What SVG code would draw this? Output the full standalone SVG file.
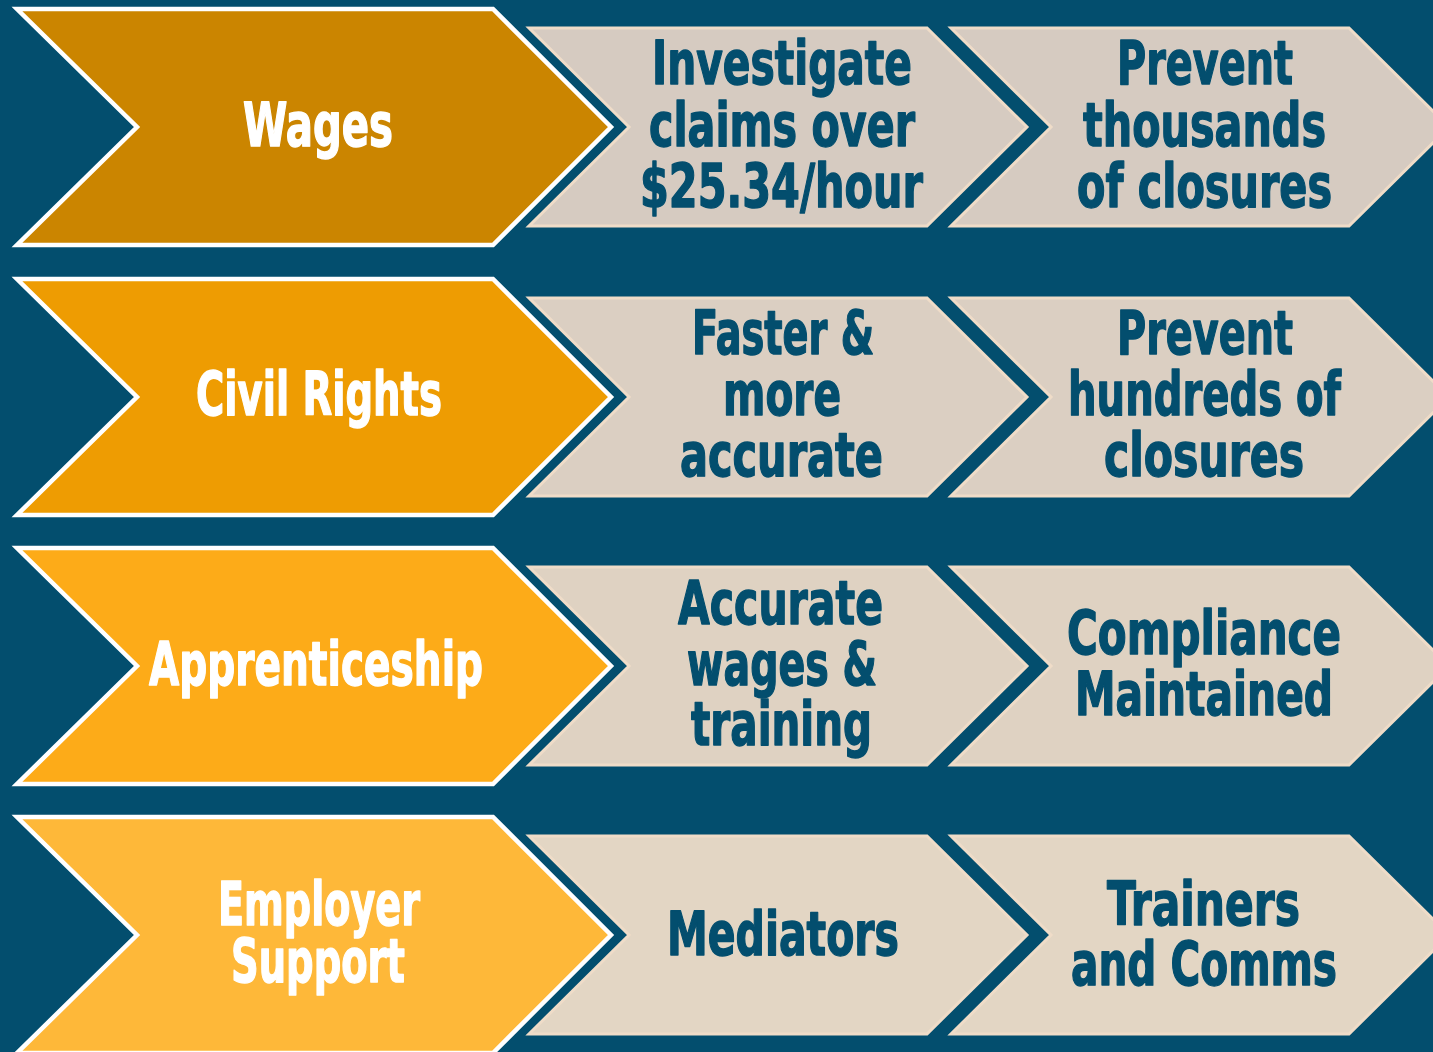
<svg xmlns="http://www.w3.org/2000/svg" xmlns:xlink="http://www.w3.org/1999/xlink" width="1433" height="1052" viewBox="0 0 1433 1052">
  <style>
    .lead { stroke: #FFFFFF; stroke-width: 4.5; stroke-linejoin: miter; }
    .step { stroke: #EFDCC8; stroke-width: 3; stroke-linejoin: miter; }
    text { font-family: "Liberation Sans Narrow", "DejaVu Sans Condensed", "Liberation Sans", sans-serif; font-weight: bold; font-size: 61px; text-anchor: middle; stroke-width: 1.4; stroke-linejoin: round; }
    .lt { fill: #FFFFFF; stroke: #FFFFFF; }
    .st { fill: #034E6E; stroke: #034E6E; }
  </style>
  <defs>
    <!-- leading chevron, centred vertically on y=0 -->
    <polygon id="leadShape" points="17,-118 493,-118 611,0 493,118 17,118 137,0"/>
    <!-- follow-on chevron, left edge at x=0, centred on y=0 -->
    <polygon id="stepShape" points="0,-99 398,-99 498,0 398,99 0,99 100,0"/>
  </defs>

  <rect width="1433" height="1052" fill="#034E6E"/>

  <!-- Row 1: Wages -->
  <g id="wages">
    <use xlink:href="#leadShape" class="lead" fill="#CB8500" transform="translate(0,127)"/>
    <text class="lt" x="318" y="146" textLength="150" lengthAdjust="spacingAndGlyphs">Wages</text>
  </g>
  <g id="wages-investigate">
    <use xlink:href="#stepShape" class="step" fill="#D6CBC1" transform="translate(529,127)"/>
    <text class="st" x="782" y="84" textLength="260" lengthAdjust="spacingAndGlyphs">Investigate</text>
    <text class="st" x="782" y="146" textLength="266" lengthAdjust="spacingAndGlyphs">claims over</text>
    <text class="st" x="781.5" y="207" textLength="283" lengthAdjust="spacingAndGlyphs">$25.34/hour</text>
  </g>
  <g id="wages-prevent">
    <use xlink:href="#stepShape" class="step" fill="#D6CBC1" transform="translate(951,127)"/>
    <text class="st" x="1205" y="84" textLength="176" lengthAdjust="spacingAndGlyphs">Prevent</text>
    <text class="st" x="1204.5" y="146" textLength="243" lengthAdjust="spacingAndGlyphs">thousands</text>
    <text class="st" x="1204.5" y="207" textLength="255" lengthAdjust="spacingAndGlyphs">of closures</text>
  </g>

  <!-- Row 2: Civil Rights -->
  <g id="civil-rights">
    <use xlink:href="#leadShape" class="lead" fill="#EE9C02" transform="translate(0,397)"/>
    <text class="lt" x="319" y="415" textLength="246" lengthAdjust="spacingAndGlyphs">Civil Rights</text>
  </g>
  <g id="civil-rights-faster">
    <use xlink:href="#stepShape" class="step" fill="#DBCFC2" transform="translate(529,397)"/>
    <text class="st" x="783" y="354" textLength="182" lengthAdjust="spacingAndGlyphs">Faster &amp;</text>
    <text class="st" x="782" y="415" textLength="118" lengthAdjust="spacingAndGlyphs">more</text>
    <text class="st" x="781.5" y="476" textLength="203" lengthAdjust="spacingAndGlyphs">accurate</text>
  </g>
  <g id="civil-rights-prevent">
    <use xlink:href="#stepShape" class="step" fill="#DBCFC2" transform="translate(951,397)"/>
    <text class="st" x="1205" y="354" textLength="176" lengthAdjust="spacingAndGlyphs">Prevent</text>
    <text class="st" x="1204.5" y="415" textLength="273" lengthAdjust="spacingAndGlyphs">hundreds of</text>
    <text class="st" x="1204" y="476" textLength="200" lengthAdjust="spacingAndGlyphs">closures</text>
  </g>

  <!-- Row 3: Apprenticeship -->
  <g id="apprenticeship">
    <use xlink:href="#leadShape" class="lead" fill="#FDAB18" transform="translate(0,666)"/>
    <text class="lt" x="316" y="685" textLength="334" lengthAdjust="spacingAndGlyphs">Apprenticeship</text>
  </g>
  <g id="apprenticeship-accurate">
    <use xlink:href="#stepShape" class="step" fill="#DFD2C2" transform="translate(529,666)"/>
    <text class="st" x="780.5" y="624" textLength="205" lengthAdjust="spacingAndGlyphs">Accurate</text>
    <text class="st" x="782" y="685" textLength="190" lengthAdjust="spacingAndGlyphs">wages &amp;</text>
    <text class="st" x="781.5" y="745" textLength="181" lengthAdjust="spacingAndGlyphs">training</text>
  </g>
  <g id="apprenticeship-compliance">
    <use xlink:href="#stepShape" class="step" fill="#DFD2C2" transform="translate(951,666)"/>
    <text class="st" x="1204" y="654" textLength="274" lengthAdjust="spacingAndGlyphs">Compliance</text>
    <text class="st" x="1204" y="715" textLength="258" lengthAdjust="spacingAndGlyphs">Maintained</text>
  </g>

  <!-- Row 4: Employer Support -->
  <g id="employer-support">
    <use xlink:href="#leadShape" class="lead" fill="#FEB839" transform="translate(0,935)"/>
    <text class="lt" x="319" y="925" textLength="202" lengthAdjust="spacingAndGlyphs">Employer</text>
    <text class="lt" x="318" y="982" textLength="174" lengthAdjust="spacingAndGlyphs">Support</text>
  </g>
  <g id="employer-support-mediators">
    <use xlink:href="#stepShape" class="step" fill="#E3D6C4" transform="translate(529,935)"/>
    <text class="st" x="783" y="955" textLength="232" lengthAdjust="spacingAndGlyphs">Mediators</text>
  </g>
  <g id="employer-support-trainers">
    <use xlink:href="#stepShape" class="step" fill="#E3D6C4" transform="translate(951,935)"/>
    <text class="st" x="1203.5" y="925" textLength="193" lengthAdjust="spacingAndGlyphs">Trainers</text>
    <text class="st" x="1204" y="985" textLength="266" lengthAdjust="spacingAndGlyphs">and Comms</text>
  </g>

  <!-- the flow runs along the chevrons themselves; no separate connector lines -->
  <g id="connectors"/>
</svg>
